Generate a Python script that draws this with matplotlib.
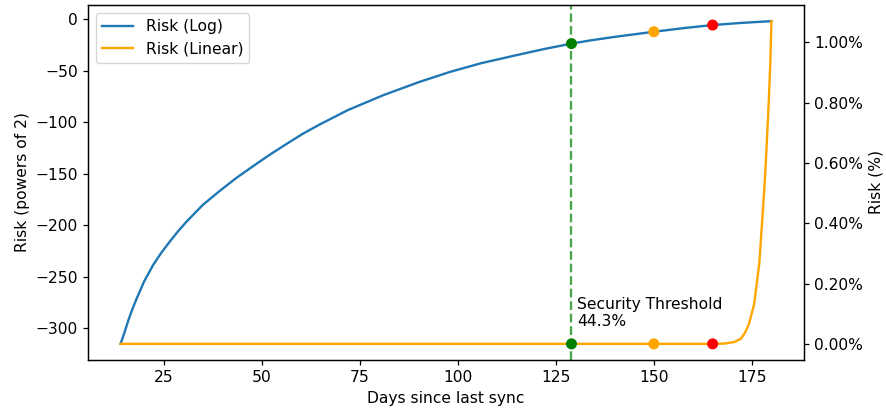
# risk of a stale sync: log2 risk vs linear risk over days since last sync

import matplotlib
matplotlib.use('Agg')
import matplotlib.pyplot as plt
from matplotlib.ticker import PercentFormatter

# log risk curve (powers of 2)
logDays = [14, 15, 16, 17, 18, 20, 22.3, 24.4, 26.5, 28.6, 30.8, 35, 39.3,
           43.5, 47.8, 52, 56.3, 60.5, 64.8, 72, 81, 90, 98, 106, 115, 122,
           129, 134, 140, 150, 158, 165, 172, 180]
logRisk = [-315, -304, -292, -281.5, -272, -254.5, -238.5, -226.5, -216,
           -206, -196.5, -180, -166.5, -154, -142.5, -131.5, -121, -111,
           -102, -88, -73.6, -61, -51, -42.5, -34.7, -28.8, -23.5, -20.3,
           -17, -12, -8.3, -5.5, -3.5, -1.7]

# linear risk curve (%)
linDays = [14, 165, 168, 170.5, 172.2, 173.3, 174.3, 175.6, 176.9, 177.7,
           178.2, 178.6, 179.3, 179.7, 180]
linRisk = [0, 0, 0.001, 0.006, 0.017, 0.038, 0.067, 0.133, 0.267, 0.42,
           0.52, 0.61, 0.80, 0.93, 1.07]

# marked days
thresholdDay = 129
markDays = [129, 150, 165]
markLog = [-23.5, -12, -5.5]
markColors = ['green', 'orange', 'red']
thresholdText = 'Security Threshold\n44.3%'

# reference was drawn a bit larger than the default 100 dpi look
plt.rcParams['font.size'] = 11.2
plt.rcParams['lines.linewidth'] = 1.7
plt.rcParams['axes.linewidth'] = 0.9
plt.rcParams['xtick.major.size'] = 3.9
plt.rcParams['ytick.major.size'] = 3.9
plt.rcParams['xtick.major.width'] = 0.9
plt.rcParams['ytick.major.width'] = 0.9

fig = plt.figure(figsize=(8.87, 4.13), dpi=100)
ax1 = fig.add_axes([88/887, 1 - 360/413, 716/887, 355/413])
ax2 = ax1.twinx()

line1, = ax1.plot(logDays, logRisk, color='tab:blue', label='Risk (Log)')
ax1.set_xlabel('Days since last sync')
ax1.set_ylabel('Risk (powers of 2)')
ax1.axvline(thresholdDay, color='green', linestyle='--', alpha=0.7)
ax1.text(thresholdDay + 1.5, -301, thresholdText, va='bottom')
ax1.scatter(markDays, markLog, color=markColors, s=48, zorder=3)

line2, = ax2.plot(linDays, linRisk, color='orange', label='Risk (Linear)')
ax2.scatter(markDays, [0, 0, 0], color=markColors, s=48, zorder=3)
ax2.set_ylabel('Risk (%)')
ax2.yaxis.set_major_formatter(PercentFormatter(xmax=100, decimals=2))

ax2.legend(handles=[line1, line2], loc='upper left')

fig.savefig('out.png', dpi=100)
